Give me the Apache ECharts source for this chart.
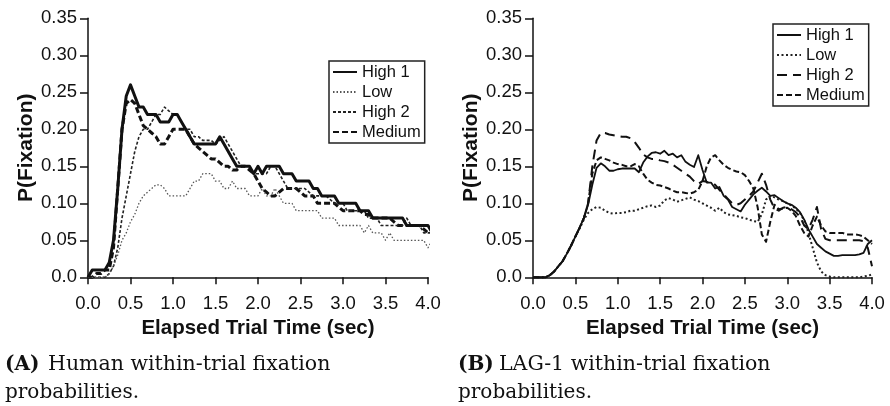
<!DOCTYPE html>
<html><head><meta charset="utf-8">
<script src="https://cdn.jsdelivr.net/npm/echarts@6/dist/echarts.min.js"></script>
<style>html,body{margin:0;padding:0;background:#fff}#c{width:890px;height:406px}</style>
</head><body><div id="c"></div>
<script>
// ---------- data ----------
const timeA = [0,0.05,0.1,0.15,0.2,0.25,0.3,0.35,0.4,0.45,0.5,0.55,0.6,0.65,0.7,0.75,0.8,0.85,0.9,0.95,1,1.05,1.1,1.15,1.2,1.25,1.3,1.35,1.4,1.45,1.5,1.55,1.6,1.65,1.7,1.75,1.8,1.85,1.9,1.95,2,2.05,2.1,2.15,2.2,2.25,2.3,2.35,2.4,2.45,2.5,2.55,2.6,2.65,2.7,2.75,2.8,2.85,2.9,2.95,3,3.05,3.1,3.15,3.2,3.25,3.3,3.35,3.4,3.45,3.5,3.55,3.6,3.65,3.7,3.75,3.8,3.85,3.9,3.95,4,4.05,4.1];
const timeB = [0,0.05,0.1,0.15,0.2,0.25,0.3,0.35,0.4,0.45,0.5,0.55,0.6,0.65,0.7,0.75,0.8,0.85,0.9,0.95,1,1.05,1.1,1.15,1.2,1.25,1.3,1.35,1.4,1.45,1.5,1.55,1.6,1.65,1.7,1.75,1.8,1.85,1.9,1.95,2,2.05,2.1,2.15,2.2,2.25,2.3,2.35,2.4,2.45,2.5,2.55,2.6,2.65,2.7,2.75,2.8,2.85,2.9,2.95,3,3.05,3.1,3.15,3.2,3.25,3.3,3.35,3.4,3.45,3.5,3.55,3.6,3.65,3.7,3.75,3.8,3.85,3.9,3.95,4];

// Panel A: Human
const high1A = [0,0.01,0.01,0.01,0.01,0.02,0.05,0.12,0.2,0.245,
0.26,0.245,0.23,0.23,0.22,0.22,0.22,0.21,0.21,0.21,
0.22,0.22,0.21,0.2,0.19,0.18,0.18,0.18,0.18,0.18,
0.18,0.19,0.18,0.17,0.16,0.15,0.15,0.15,0.15,0.14,
0.15,0.14,0.15,0.15,0.15,0.15,0.14,0.14,0.14,0.13,
0.13,0.13,0.13,0.12,0.12,0.11,0.11,0.11,0.11,0.1,
0.1,0.1,0.1,0.1,0.09,0.09,0.09,0.08,0.08,0.08,
0.08,0.08,0.08,0.08,0.08,0.07,0.07,0.07,0.07,0.07,
0.07,0.06,0.06];
const lowA = [0,0,0,0,0,0.005,0.015,0.03,0.05,0.06,
0.075,0.085,0.1,0.11,0.115,0.12,0.125,0.125,0.12,0.11,
0.11,0.11,0.11,0.11,0.12,0.13,0.13,0.14,0.14,0.14,
0.13,0.13,0.12,0.12,0.13,0.12,0.12,0.12,0.11,0.11,
0.11,0.12,0.11,0.11,0.12,0.11,0.1,0.1,0.1,0.09,
0.09,0.09,0.09,0.09,0.09,0.08,0.08,0.08,0.08,0.07,
0.07,0.07,0.07,0.07,0.07,0.06,0.07,0.06,0.06,0.06,
0.05,0.06,0.05,0.05,0.05,0.05,0.05,0.05,0.05,0.05,
0.04,0.05,0.05];
const high2A = [0,0,0,0,0,0.005,0.015,0.04,0.08,0.11,
0.14,0.17,0.19,0.2,0.2,0.21,0.22,0.22,0.23,0.225,
0.22,0.22,0.21,0.2,0.2,0.19,0.19,0.185,0.185,0.185,
0.18,0.185,0.19,0.18,0.17,0.16,0.15,0.15,0.15,0.14,
0.14,0.14,0.14,0.15,0.15,0.14,0.13,0.12,0.12,0.12,
0.12,0.12,0.115,0.11,0.11,0.11,0.11,0.105,0.1,0.1,
0.1,0.09,0.09,0.09,0.09,0.09,0.08,0.08,0.08,0.07,
0.07,0.07,0.07,0.07,0.07,0.08,0.07,0.07,0.07,0.06,
0.06,0.06,0.06];
const mediumA = [0,0,0.005,0.005,0.01,0.01,0.04,0.12,0.2,0.235,
0.24,0.235,0.22,0.205,0.2,0.195,0.19,0.18,0.18,0.19,
0.2,0.2,0.2,0.2,0.19,0.18,0.175,0.17,0.165,0.16,
0.16,0.155,0.15,0.15,0.145,0.145,0.15,0.15,0.145,0.14,
0.13,0.12,0.115,0.11,0.11,0.115,0.12,0.12,0.12,0.12,
0.115,0.11,0.11,0.11,0.1,0.1,0.1,0.1,0.1,0.095,
0.09,0.09,0.09,0.09,0.09,0.085,0.085,0.08,0.08,0.08,
0.08,0.08,0.075,0.07,0.07,0.07,0.07,0.07,0.07,0.065,
0.06,0.06,0.06];

// Panel B: LAG-1
const high1B = [0,0,0,0,0.003,0.008,0.015,0.022,0.032,0.043,
0.055,0.067,0.08,0.098,0.125,0.148,0.154,0.15,0.144,0.144,
0.146,0.147,0.147,0.147,0.147,0.142,0.155,0.163,0.168,0.169,
0.167,0.171,0.165,0.167,0.162,0.165,0.156,0.152,0.149,0.165,
0.145,0.128,0.128,0.12,0.122,0.11,0.105,0.095,0.092,0.089,
0.098,0.105,0.112,0.117,0.121,0.116,0.11,0.111,0.107,0.103,
0.1,0.098,0.094,0.088,0.078,0.065,0.055,0.045,0.04,0.035,
0.032,0.029,0.029,0.03,0.03,0.03,0.03,0.031,0.033,0.045,
0.05];
const lowB = [0,0,0,0,0.003,0.008,0.015,0.022,0.032,0.043,
0.055,0.066,0.078,0.087,0.092,0.095,0.094,0.09,0.087,0.086,
0.087,0.087,0.088,0.09,0.09,0.092,0.094,0.096,0.097,0.095,
0.097,0.104,0.107,0.105,0.102,0.104,0.106,0.108,0.105,0.103,
0.1,0.097,0.094,0.09,0.094,0.088,0.085,0.084,0.083,0.081,
0.08,0.078,0.076,0.075,0.085,0.105,0.11,0.108,0.105,0.103,
0.1,0.097,0.093,0.087,0.077,0.06,0.04,0.02,0.008,0.003,
0.001,0,0,0,0,0,0,0,0.001,0.002,
0.004];
const high2B = [0,0,0,0,0.003,0.008,0.015,0.022,0.032,0.043,
0.055,0.067,0.08,0.1,0.15,0.185,0.195,0.195,0.193,0.192,
0.191,0.19,0.19,0.188,0.183,0.175,0.166,0.162,0.16,0.16,
0.158,0.157,0.155,0.152,0.148,0.144,0.14,0.136,0.13,0.126,
0.13,0.129,0.127,0.125,0.118,0.112,0.106,0.1,0.098,0.1,
0.105,0.11,0.116,0.128,0.14,0.125,0.105,0.093,0.09,0.094,
0.095,0.092,0.088,0.082,0.07,0.065,0.078,0.095,0.065,0.052,
0.05,0.05,0.05,0.05,0.05,0.05,0.05,0.05,0.049,0.04,
0.015];
const mediumB = [0,0,0,0,0.003,0.008,0.015,0.022,0.032,0.043,
0.055,0.067,0.08,0.1,0.14,0.158,0.162,0.16,0.158,0.155,
0.153,0.152,0.15,0.15,0.153,0.15,0.14,0.132,0.128,0.125,
0.124,0.122,0.12,0.117,0.115,0.115,0.114,0.113,0.115,0.118,
0.13,0.15,0.162,0.165,0.158,0.152,0.148,0.145,0.143,0.142,
0.138,0.13,0.12,0.095,0.058,0.048,0.075,0.098,0.092,0.093,
0.094,0.09,0.083,0.07,0.06,0.055,0.07,0.082,0.07,0.062,
0.06,0.06,0.06,0.06,0.058,0.058,0.058,0.057,0.055,0.05,
0.045];

const seriesNames = ['High 1', 'Low', 'High 2', 'Medium'];
const yTickLabels = ['0.0','0.05','0.10','0.15','0.20','0.25','0.30','0.35'];
const xTickLabels = ['0.0','0.5','1.0','1.5','2.0','2.5','3.0','3.5','4.0'];
const xTitle = 'Elapsed Trial Time (sec)';
const yTitle = 'P(Fixation)';
const captionA = ['(A)', 'Human within-trial fixation', 'probabilities.'];
const captionB = ['(B)', 'LAG-1 within-trial fixation', 'probabilities.'];

// ---------- chart ----------
const FONT = '"Liberation Sans", Arial, sans-serif';
const INK = '#111';
const chart = echarts.init(document.getElementById('c'), null, {renderer: 'canvas'});

function xAxis(gi) {
  return {
    gridIndex: gi, type: 'value', min: 0, max: 4, interval: 0.5,
    name: xTitle, nameLocation: 'middle', nameGap: 40,
    nameTextStyle: {fontFamily: FONT, fontWeight: 'bold', fontSize: 20.5, color: INK},
    axisLine: {show: true, onZero: false, lineStyle: {color: INK, width: 1.5}},
    axisTick: {show: true, length: 7, inside: false, lineStyle: {color: INK, width: 1.5}},
    axisLabel: {fontFamily: FONT, fontSize: 18.5, color: INK, margin: 17,
      formatter: v => xTickLabels[Math.round(v / 0.5)]},
    splitLine: {show: false}
  };
}
function yAxis(gi) {
  return {
    gridIndex: gi, type: 'value', min: 0, max: 0.35, interval: 0.05,
    name: yTitle, nameLocation: 'middle', nameGap: 50,
    nameTextStyle: {fontFamily: FONT, fontWeight: 'bold', fontSize: 21, color: INK},
    axisLine: {show: true, lineStyle: {color: INK, width: 1.5}},
    axisTick: {show: true, length: 8, inside: false, lineStyle: {color: INK, width: 1.5}},
    axisLabel: {fontFamily: FONT, fontSize: 18.5, color: INK, margin: 11,
      formatter: v => yTickLabels[Math.round(v / 0.05)]},
    splitLine: {show: false}
  };
}
function pairs(ts, vs) { return ts.map((t, i) => [t, vs[i]]); }

const stylesA = [
  {color: INK, width: 3, type: 'solid'},
  {color: '#555', width: 1.3, type: [1.5, 2]},
  {color: '#222', width: 1.6, type: [3, 2]},
  {color: INK, width: 3, type: [6, 3]}
];
const stylesB = [
  {color: INK, width: 1.8, type: 'solid'},
  {color: '#222', width: 2, type: [2, 2.5]},
  {color: INK, width: 2, type: [10, 6]},
  {color: INK, width: 2, type: [6, 3]}
];
const dataA = [high1A, lowA, high2A, mediumA];
const dataB = [high1B, lowB, high2B, mediumB];

const series = [];
seriesNames.forEach((n, i) => {
  series.push({
    name: 'A:' + n, type: 'line', xAxisIndex: 0, yAxisIndex: 0,
    data: pairs(timeA, dataA[i]), showSymbol: false, symbol: 'none', clip: false,
    lineStyle: Object.assign({cap: 'butt', join: 'round'}, stylesA[i]),
    itemStyle: {color: stylesA[i].color}, z: 10 - i
  });
});
seriesNames.forEach((n, i) => {
  series.push({
    name: 'B:' + n, type: 'line', xAxisIndex: 1, yAxisIndex: 1,
    data: pairs(timeB, dataB[i]), showSymbol: false, symbol: 'none', clip: false,
    lineStyle: Object.assign({cap: 'butt', join: 'round'}, stylesB[i]),
    itemStyle: {color: stylesB[i].color}, z: 10 - i
  });
});

function legend(prefix, left, top) {
  return {
    orient: 'vertical', left: left, top: top,
    data: seriesNames.map(n => prefix + n),
    formatter: n => n.slice(2),
    selectedMode: false,
    itemWidth: 24, itemHeight: 14, itemGap: 0,
    padding: [1, 4, 1, 3],
    borderColor: '#222', borderWidth: 1.5,
    lineStyle: {width: 2},
    itemStyle: {opacity: 0, borderWidth: 0},
    textStyle: {fontFamily: FONT, fontSize: 16.5, color: INK, lineHeight: 20}
  };
}

function caption(parts, x0, x1) {
  const f = '"DejaVu Serif", serif';
  return [
    {type: 'text', x: x0, y: 365, style: {text: parts[0], font: 'bold 20px ' + f, fill: INK, verticalAlign: 'middle'}},
    {type: 'text', x: x1, y: 365, style: {text: parts[1], font: '20.5px ' + f, fill: INK, verticalAlign: 'middle'}},
    {type: 'text', x: x0, y: 393, style: {text: parts[2], font: '20px ' + f, fill: INK, verticalAlign: 'middle'}}
  ];
}

chart.setOption({
  animation: false,
  backgroundColor: '#fff',
  grid: [
    {left: 88, top: 18.3, width: 340, height: 259},
    {left: 533, top: 18.3, width: 339, height: 259}
  ],
  xAxis: [xAxis(0), xAxis(1)],
  yAxis: [yAxis(0), yAxis(1)],
  legend: [legend('A:', 329, 61), legend('B:', 773, 24)],
  series: series,
  graphic: caption(captionA, 5, 48).concat(caption(captionB, 458, 499))
});
</script>
</body></html>
